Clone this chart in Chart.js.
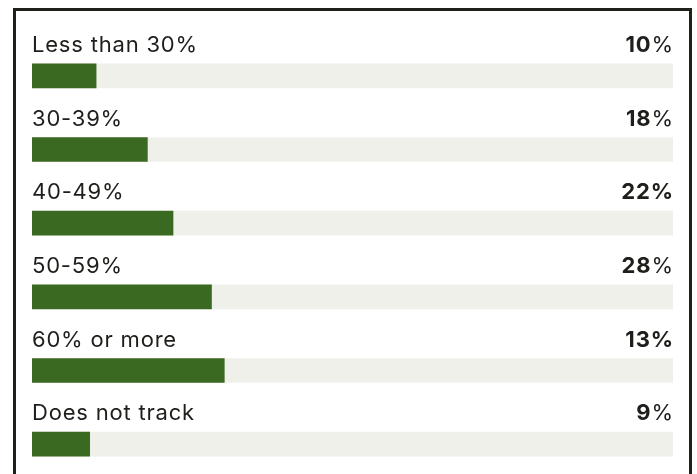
<!DOCTYPE html>
<html>
<head>
<meta charset="utf-8">
<script src="https://cdn.jsdelivr.net/npm/chart.js@4.4.1/dist/chart.umd.min.js"></script>
<style>
  html, body { margin: 0; padding: 0; background: #fff; overflow: hidden; }
  body { width: 697px; height: 474px; position: relative; }
  .frame {
    position: absolute; left: 13px; top: 8px; width: 673px; height: 480px;
    border: 3px solid #1e2219; border-bottom: none;
  }
  .wrap { position: absolute; left: 0; top: 0; width: 697px; height: 520px; }
</style>
</head>
<body>
<div class="frame"></div>
<div class="wrap"><canvas id="chart"></canvas></div>
<script>
const categories = ["Less than 30%", "30-39%", "40-49%", "50-59%", "60% or more", "Does not track"];
// bar lengths as drawn in the picture
const barValues = [10, 18, 22, 28, 30, 9];
// value labels as printed on the right
const valueLabels = ["10", "18", "22", "28", "13", "9"];
const boldPercent = [false, false, true, false, true, false];
const trackValues = [100, 100, 100, 100, 100, 100];

const GREEN = "#3a6a21";
const TRACK = "#f0f0eb";
const INK = "#1c1f1a";
const FONT = "Inter, 'Noto Sans', sans-serif";
const SPACING = 0.8;

const rowLabels = {
    id: "rowLabels",
    afterDatasetsDraw(chart) {
        const ctx = chart.ctx;
        const meta = chart.getDatasetMeta(0);
        const left = chart.chartArea.left;
        const right = chart.chartArea.right + SPACING;
        ctx.save();
        ctx.textBaseline = "alphabetic";
        ctx.fillStyle = INK;
        ctx.letterSpacing = SPACING + "px";
        meta.data.forEach((bar, i) => {
            const y = bar.y - 24;
            ctx.font = "400 22px " + FONT;
            ctx.textAlign = "left";
            ctx.fillText(categories[i], left, y);

            ctx.textAlign = "right";
            ctx.font = (boldPercent[i] ? "700" : "400") + " 22px " + FONT;
            const pw = ctx.measureText("%").width;
            ctx.fillText("%", right, y);
            ctx.font = "700 22px " + FONT;
            ctx.fillText(valueLabels[i], right - pw, y);
        });
        ctx.restore();
    }
};

new Chart(document.getElementById("chart"), {
    type: "bar",
    data: {
        labels: categories,
        datasets: [{
            data: barValues,
            backgroundColor: GREEN,
            barThickness: 24,
            grouped: false,
            order: 0
        }, {
            data: trackValues,
            backgroundColor: TRACK,
            barThickness: 24,
            grouped: false,
            order: 1
        }]
    },
    options: {
        indexAxis: "y",
        responsive: true,
        maintainAspectRatio: false,
        animation: false,
        layout: { padding: { left: 32, right: 24, top: 39, bottom: 39 } },
        plugins: {
            legend: { display: false },
            tooltip: { enabled: false }
        },
        scales: {
            x: { display: false, min: 0, max: 100 },
            y: { display: false }
        }
    },
    plugins: [rowLabels]
});
</script>
</body>
</html>
